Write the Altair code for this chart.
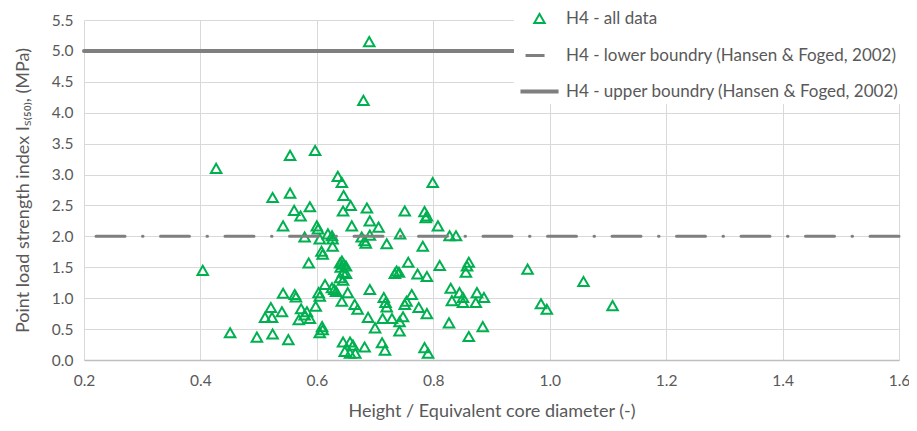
import altair as alt
import pandas as pd

# Height / equivalent core diameter (-)
ratio_hd = [
    0.404, 0.427, 0.451, 0.497, 0.511, 0.521, 0.523, 0.524, 0.524, 0.540,
    0.542, 0.542, 0.551, 0.554, 0.554, 0.561, 0.562, 0.564, 0.569, 0.573,
    0.572, 0.579, 0.579, 0.586, 0.588, 0.588, 0.583,
    0.597, 0.598, 0.600, 0.602, 0.603, 0.605, 0.605, 0.605, 0.609, 0.610,
    0.608, 0.610, 0.614, 0.619, 0.626, 0.627, 0.627, 0.626, 0.630, 0.633,
    0.636, 0.640, 0.643, 0.646, 0.650, 0.641, 0.645, 0.650, 0.640, 0.645,
    0.643, 0.643, 0.646, 0.645, 0.645, 0.648, 0.653, 0.657, 0.657, 0.658,
    0.660, 0.662, 0.665, 0.666, 0.670, 0.677, 0.682, 0.682, 0.684, 0.686,
    0.688, 0.691, 0.691, 0.691, 0.700, 0.690, 0.680,
    0.706, 0.712, 0.713, 0.715, 0.718, 0.717, 0.720, 0.720, 0.729, 0.734,
    0.737, 0.741, 0.742, 0.742, 0.743, 0.748, 0.751, 0.751, 0.754, 0.757,
    0.763, 0.773, 0.775, 0.782, 0.785, 0.785, 0.787, 0.789, 0.789, 0.789,
    0.791, 0.799, 0.808, 0.811, 0.827, 0.828, 0.830, 0.832, 0.839, 0.845,
    0.851, 0.851, 0.856, 0.858, 0.861, 0.861, 0.873, 0.875, 0.885, 0.887,
    0.962, 0.985, 0.995, 1.058, 1.108,
]

# Point load strength index Is(50) (MPa)
is50_mpa = [
    1.45, 3.10, 0.44, 0.37, 0.69, 0.85, 0.69, 0.42, 2.63, 0.78,
    1.08, 2.17, 0.33, 3.31, 2.70, 2.42, 1.06, 1.02, 0.65, 0.83,
    2.33, 0.73, 1.99, 1.57, 2.48, 0.67, 0.78,
    3.39, 0.87, 2.17, 2.12, 1.09, 1.03, 1.96, 0.44, 0.54, 0.49,
    1.76, 1.71, 1.22, 2.04, 2.01, 1.96, 1.84, 1.17, 1.14, 1.11,
    2.97, 1.57, 1.60, 1.55, 1.52, 1.50, 1.42, 1.40, 1.33, 1.29,
    0.95, 2.87, 2.66, 2.41, 0.29, 0.14, 1.09, 0.29, 0.11, 2.50,
    2.17, 0.24, 0.90, 0.11, 0.82, 1.99, 1.93, 0.21, 1.89, 2.46,
    0.69, 2.02, 1.14, 2.25, 0.52, 5.15, 4.20,
    2.15, 0.28, 0.67, 1.01, 0.93, 0.16, 0.86, 1.88, 0.67, 1.40,
    1.44, 1.42, 0.62, 0.47, 2.04, 0.70, 0.90, 2.41, 0.95, 1.58,
    1.06, 1.39, 0.85, 1.84, 2.40, 0.20, 2.30, 2.33, 1.35, 0.75,
    0.11, 2.87, 2.17, 1.53, 0.60, 2.01, 1.16, 0.96, 2.01, 1.09,
    1.01, 0.93, 1.42, 1.52, 1.58, 0.38, 0.93, 1.09, 0.54, 1.01,
    1.47, 0.91, 0.82, 1.27, 0.88,
]

series_names = [
    "H4 - all data",
    "H4 - lower boundry (Hansen & Foged, 2002)",
    "H4 - upper boundry (Hansen & Foged, 2002)",
]
boundary_levels = [2.0, 5.0]

x_ticks = [0.2, 0.4, 0.6, 0.8, 1.0, 1.2, 1.4, 1.6]
y_ticks = [0.0, 0.5, 1.0, 1.5, 2.0, 2.5, 3.0, 3.5, 4.0, 4.5, 5.0, 5.5]

pts = pd.DataFrame({"ratio": ratio_hd, "is50": is50_mpa, "series": series_names[0]})
bnd = pd.DataFrame({"level": boundary_levels, "series": series_names[1:]})

FONT = "Lato"
TXT = "#595959"
GREEN = "#00B050"
GREY = "#7F7F7F"

color_scale = alt.Scale(domain=series_names, range=[GREEN, GREY, GREY])
shape_scale = alt.Scale(domain=series_names, range=["triangle-up", "stroke", "stroke"])
size_scale = alt.Scale(domain=series_names, range=[110, 1450, 1450])
dash_scale = alt.Scale(domain=series_names, range=[[1, 0], [29, 17.5, 0.5, 17.5], [1, 0]])
sw_scale = alt.Scale(domain=series_names, range=[2, 4, 4])

leg = alt.Legend(
    title=None,
    orient="none",
    legendX=430,
    legendY=-14,
    fillColor="white",
    padding=4,
    labelFont=FONT,
    labelFontSize=17,
    labelColor=TXT,
    labelLimit=500,
    labelOffset=5,
    gridAlign="all",
    rowPadding=0,
    symbolOpacity=1,
    symbolDashOffset=10,
)

x_scale = alt.Scale(domain=[0.2, 1.6], nice=False, zero=False)
y_scale = alt.Scale(domain=[0, 5.5], nice=False, zero=True)

x_axis = alt.Axis(
    title="Height / Equivalent core diameter (-)",
    values=x_ticks,
    format=".1f",
    grid=True,
    gridColor="#D9D9D9",
    domainColor="#BFBFBF",
    domainWidth=1.5,
    ticks=False,
    labelPadding=13,
    titlePadding=14,
    labelOverlap=False,
    labelFlush=False,
)
y_axis = alt.Axis(
    title="Point load strength index I\u209b\u208d\u2085\u2080\u208e, (MPa)",
    values=y_ticks,
    format=".1f",
    grid=True,
    gridColor="#D9D9D9",
    domain=False,
    ticks=False,
    labelPadding=11,
    titlePadding=19,
    labelOverlap=False,
    labelFlush=False,
)

points = alt.Chart(pts).mark_point(filled=False, strokeWidth=2, opacity=1).encode(
    x=alt.X("ratio:Q", scale=x_scale, axis=x_axis),
    y=alt.Y("is50:Q", scale=y_scale, axis=y_axis),
    color=alt.Color("series:N", scale=color_scale, legend=leg),
    shape=alt.Shape("series:N", scale=shape_scale, legend=leg),
    size=alt.Size("series:N", scale=size_scale, legend=leg),
)

rules = alt.Chart(bnd).mark_rule(strokeCap="round").encode(
    y=alt.Y("level:Q", scale=y_scale, axis=y_axis),
    color=alt.Color("series:N", scale=color_scale, legend=leg),
    strokeDash=alt.StrokeDash("series:N", scale=dash_scale, legend=leg),
    strokeWidth=alt.StrokeWidth("series:N", scale=sw_scale, legend=leg),
)

chart = (
    alt.layer(points, rules)
    .properties(
        width=815,
        height=340,
        autosize=alt.AutoSizeParams(type="none"),
        padding={"left": 76, "top": 12, "right": 10, "bottom": 60},
        background="white",
    )
    .configure_view(stroke=None)
    .configure_axis(
        labelFont=FONT,
        labelFontSize=15.5,
        labelColor=TXT,
        labelOverlap=False,
        titleFont=FONT,
        titleFontSize=18,
        titleFontWeight="normal",
        titleColor=TXT,
    )
)

chart.save("out.html", embed_options={"renderer": "svg", "actions": False})
